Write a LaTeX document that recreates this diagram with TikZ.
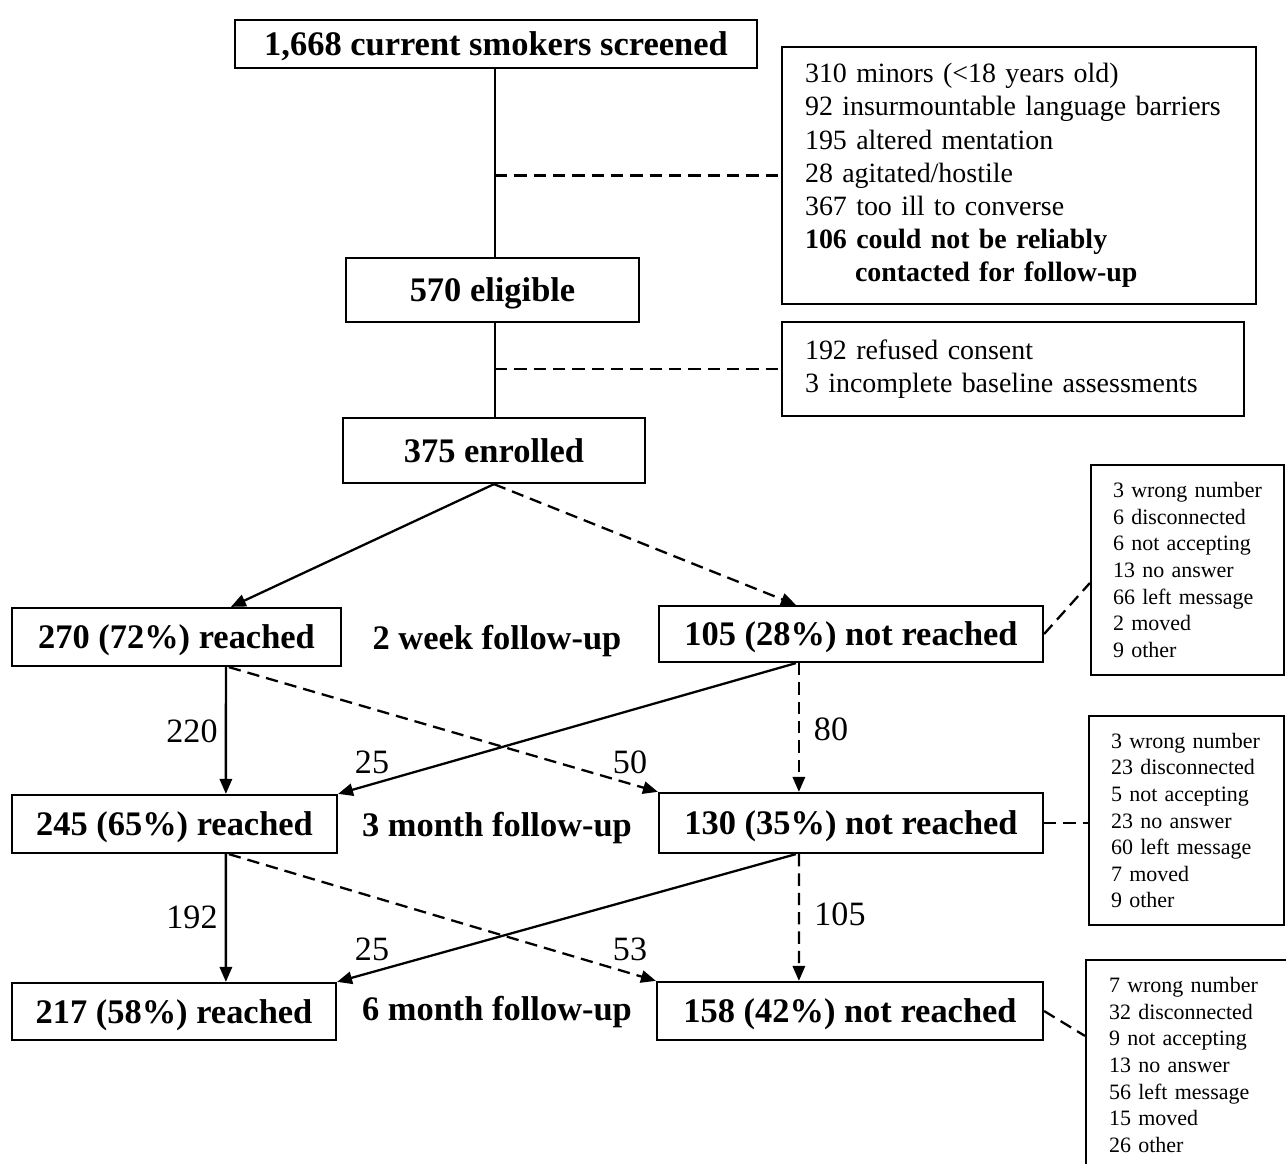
\documentclass[tikz,border=0pt]{standalone}
\usepackage{fontspec}
\setmainfont{Liberation Serif}
\usepackage{tikz}
\usetikzlibrary{arrows.meta, positioning, calc}

\begin{document}
\begin{tikzpicture}[
    x=0.02cm, y=-0.02cm,
    countbox/.style={
        rectangle,
        draw,
        line width=1.3pt,
        inner sep=0pt,
        text depth=0pt,
        align=center,
        font=\fontsize{19.6}{23}\selectfont\bfseries
    },
    exclbox/.style={
        rectangle,
        draw,
        line width=1.3pt,
        inner xsep=0.46cm,
        inner ysep=0pt,
        align=left,
        font=\fontsize{15.9}{18.9}\selectfont
    },
    lostbox/.style={
        rectangle,
        draw,
        line width=1.3pt,
        inner xsep=0.44cm,
        inner ysep=0pt,
        align=left,
        font=\fontsize{12.5}{15.1}\selectfont
    },
    phase/.style={text depth=0pt, font=\fontsize{19.6}{23}\selectfont\bfseries},
    tally/.style={font=\fontsize{19.4}{23}\selectfont},
    link/.style={line width=1.3pt},
    flow/.style={line width=1.3pt, -{Triangle[length=8.5pt,width=7pt]}},
    lost/.style={flow, dash pattern=on 7pt off 4pt},
    aside/.style={link, dash pattern=on 7pt off 4pt}
]
\useasboundingbox (0,0) rectangle (1286,1164);
\clip (0,0) rectangle (1286,1164);

\node[countbox, minimum width=10.44cm, minimum height=0.96cm] (screened) at (496,44) {1,668 current smokers screened};
\node[countbox, minimum width=5.86cm, minimum height=1.28cm] (eligible) at (492.5,290) {570 eligible};
\node[countbox, minimum width=6.04cm, minimum height=1.30cm] (enrolled) at (494,450.5) {375 enrolled};

\node[exclbox, text width=8.56cm, minimum height=5.14cm] (excl1) at (1019,175.5) {%
310 minors (<18 years old)\\
92 insurmountable language barriers\\
195 altered mentation\\
28 agitated/hostile\\
367 too ill to converse\\
\textbf{106 could not be reliably}\\
\hspace*{1cm}\textbf{contacted for follow-up}};
\node[exclbox, text width=8.32cm, minimum height=1.88cm] (excl2) at (1013,369) {%
192 refused consent\\
3 incomplete baseline assessments};

\node[countbox, minimum width=6.58cm, minimum height=1.16cm] (r2) at (176.5,637) {270 (72\%) reached};
\node[countbox, minimum width=7.68cm, minimum height=1.12cm] (n2) at (851,634) {105 (28\%) not reached};
\node[phase] (p2) at (497,637) {2 week follow-up};

\node[countbox, minimum width=6.5cm, minimum height=1.16cm] (r3) at (174.5,824) {245 (65\%) reached};
\node[countbox, minimum width=7.68cm, minimum height=1.2cm] (n3) at (851,823) {130 (35\%) not reached};
\node[phase] (p3) at (497,824) {3 month follow-up};

\node[countbox, minimum width=6.48cm, minimum height=1.14cm] (r6) at (174,1011.5) {217 (58\%) reached};
\node[countbox, minimum width=7.72cm, minimum height=1.16cm] (n6) at (850,1011) {158 (42\%) not reached};
\node[phase] (p6) at (497,1008) {6 month follow-up};

\node[lostbox, text width=2.98cm, minimum height=4.2cm] (lost2) at (1187.5,570) {%
3 wrong number\\ 6 disconnected\\ 6 not accepting\\ 13 no answer\\ 66 left message\\ 2 moved\\ 9 other};
\node[lostbox, text width=3.02cm, minimum height=4.18cm] (lost3) at (1186.5,820.5) {%
3 wrong number\\ 23 disconnected\\ 5 not accepting\\ 23 no answer\\ 60 left message\\ 7 moved\\ 9 other};
\node[lostbox, inner xsep=0.46cm, text width=3.56cm, minimum height=4.2cm] (lost6) at (1198,1065) {%
7 wrong number\\ 32 disconnected\\ 9 not accepting\\ 13 no answer\\ 56 left message\\ 15 moved\\ 26 other};

\draw[link] (screened.south -| 495,0) -- (eligible.north -| 495,0);
\draw[aside] (495,0 |- excl1.west) -- (excl1.west);
\draw[link] (eligible.south -| 495,0) -- (enrolled.north -| 495,0);
\draw[aside] (495,0 |- excl2.west) -- (excl2.west);

\draw[flow] (enrolled.south) -- ($(r2.north west)+(220,0)$);
\draw[lost] (enrolled.south) -- ($(n2.north west)+(138,0)$);

\draw[flow] ($(r2.south west)+(215,0)$) -- ($(r3.north west)+(215,0)$);
\draw[lost] ($(r2.south west)+(218,0)$) -- (n3.north west);
\draw[lost] ($(n2.south west)+(141,0)$) -- ($(n3.north west)+(141,0)$);
\draw[flow] ($(n2.south west)+(138,0)$) -- (r3.north east);

\draw[flow] ($(r3.south west)+(215,0)$) -- ($(r6.north west)+(215,0)$);
\draw[lost] ($(r3.south west)+(218,0)$) -- (n6.north west);
\draw[lost] ($(n3.south west)+(141,0)$) -- ($(n6.north west)+(143,0)$);
\draw[flow] ($(n3.south west)+(138,0)$) -- (r6.north east);

\draw[aside] (n2.east) -- ($(lost2.west)+(0,13)$);
\draw[aside] (n3.east) -- (n3.east -| lost3.west);
\draw[aside] (n6.east) -- ($(lost6.north west)+(0,77)$);

\node[tally] (k220) at (192,731) {220};
\node[tally] (k25a) at (372,762) {25};
\node[tally] (k50) at (630,762) {50};
\node[tally] (k80) at (831,729) {80};
\node[tally] (k192) at (192,917) {192};
\node[tally] (k25b) at (372,949) {25};
\node[tally] (k53) at (630,949) {53};
\node[tally] (k105) at (840,914) {105};
\end{tikzpicture}
\end{document}
